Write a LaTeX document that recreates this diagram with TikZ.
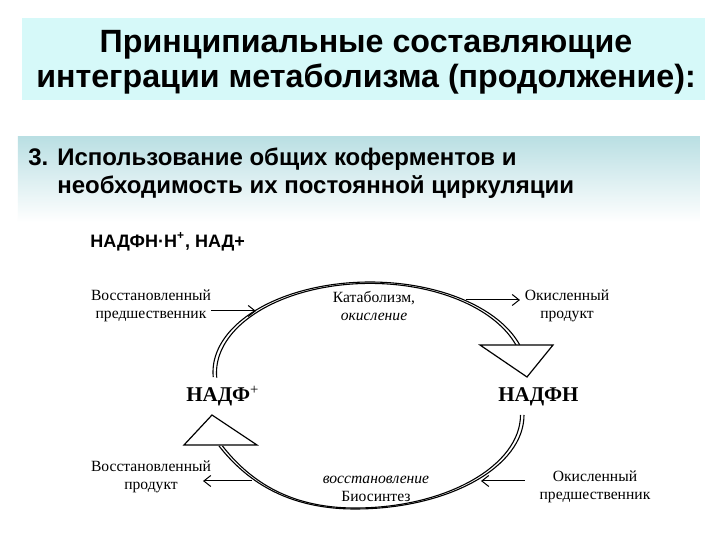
\documentclass[tikz,border=0pt]{standalone}
\usepackage{fontspec}
\setmainfont{Liberation Serif}
\newfontfamily\arialf{Liberation Sans}
\usetikzlibrary{arrows.meta}
\definecolor{titlebg}{RGB}{214,249,249}
\definecolor{subtop}{RGB}{186,223,227}
\definecolor{submid}{RGB}{222,240,243}
\begin{document}
\begin{tikzpicture}[x=0.5pt,y=-0.5pt,
  lbl/.style={font=\fontsize{7.8}{9}\selectfont, align=center, inner sep=0pt},
  nad/.style={font=\bfseries\fontsize{10.5}{12}\selectfont, inner sep=0pt},
  arr/.style={line width=0.5pt,-{Straight Barb[length=3.5pt,width=5.5pt]}},
  tri/.style={line width=0.6pt, fill=white, line join=miter},
  cyc/.style={line width=0.55pt}]
\path[use as bounding box] (0,0) rectangle (720,540);
\fill[white] (0,0) rectangle (720,540);
% title
\fill[titlebg] (22,18) rectangle (705,100);
\node[font=\arialf\bfseries\fontsize{16.1}{17.5}\selectfont, align=center] (title) at (366,62)
  {Принципиальные составляющие\\интеграции метаболизма (продолжение):};
% subtitle
\shade[top color=subtop, middle color=submid, bottom color=white] (18,137) rectangle (700,222);
\node[font=\arialf\bfseries\fontsize{12}{14}\selectfont, align=left, anchor=west, inner sep=0pt] (sub) at (28,173)
  {3. Использование общих коферментов и\\\hspace*{14.5pt}необходимость их постоянной циркуляции};
\node[font=\arialf\bfseries\fontsize{9}{11}\selectfont, anchor=west, inner sep=0pt] (coenz) at (90,242)
  {НАДФН·Н\textsuperscript{+}, НАД+};
% top arc (catabolism)
\draw[cyc] plot[domain=176.8:342.5, samples=90] ({370+157*cos(\x)},{372+90*sin(\x)});
\draw[cyc] plot[domain=176.8:342.5, samples=90] ({370+153.5*cos(\x)},{372.7+89.3*sin(\x)});
% bottom arc (biosynthesis)
\draw[cyc] (524,415) .. controls (524,467) and (448,509) .. (355,509) .. controls (285,509) and (245,479) .. (219,446);
\draw[cyc] (520.5,415) .. controls (520.5,465) and (447,508) .. (355,508) .. controls (286.5,508) and (247.5,478) .. (222.5,446);
% hollow arrowheads
\draw[tri] (480,345) -- (553,345) -- (527,377) -- cycle;
\draw[tri] (212,415) -- (257,445) -- (184,445) -- cycle;
% coenzymes
\node[nad, anchor=base west] (nadp) at (186,402) {НАДФ\textsuperscript{\mdseries +}};
\node[nad, anchor=base west] (nadph) at (498,402) {НАДФН};
% labels
\node[lbl] (rpre) at (151,306) {Восстановленный\\предшественник};
\node[lbl] (kat) at (374,306) {Катаболизм,\\\textit{окисление}};
\node[lbl] (oprod) at (567,306) {Окисленный\\продукт};
\node[lbl] (rprod) at (151,477) {Восстановленный\\продукт};
\node[lbl] (bio) at (376,489) {\textit{восстановление}\\Биосинтез};
\node[lbl] (opre) at (595,487) {Окисленный\\предшественник};
% side arrows
\coordinate (t1) at (256,311);
\coordinate (t2) at (466,300);
\coordinate (t2e) at (520,300);
\coordinate (b1) at (481,481);
\coordinate (b1s) at (525,481);
\coordinate (b2) at (252,481);
\coordinate (b2e) at (203,481);
\draw[arr] (rpre.east |- t1) -- (t1);
\draw[arr] (t2) -- (t2e);
\draw[arr] (b1s) -- (b1);
\draw[arr] (b2) -- (b2e);
\end{tikzpicture}
\end{document}
